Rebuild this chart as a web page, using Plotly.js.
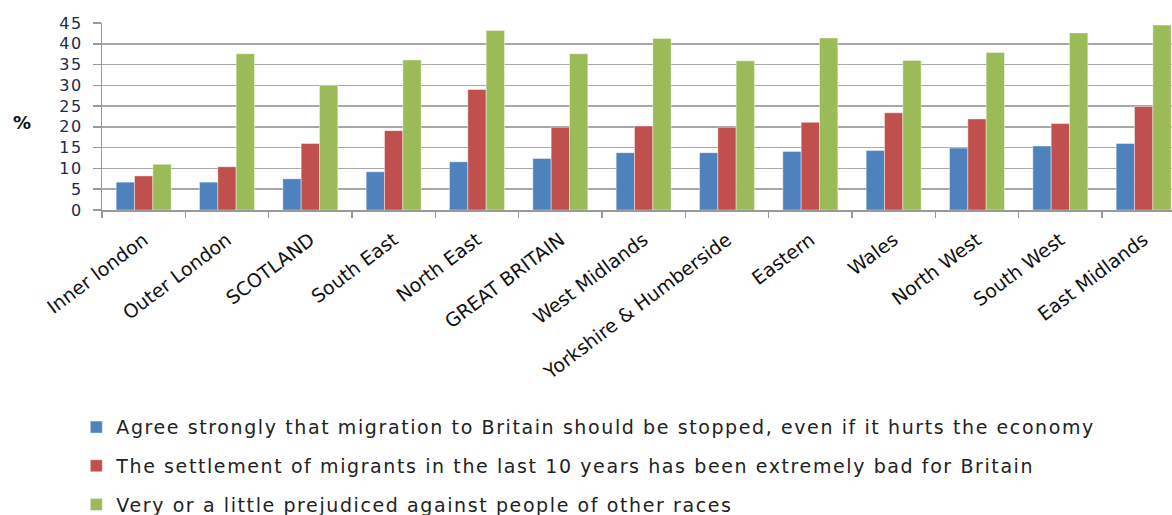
<!DOCTYPE html>
<html>
<head>
<meta charset="utf-8">
<script src="https://cdn.plot.ly/plotly-3.0.1.min.js"></script>
<style>
html,body{margin:0;padding:0;overflow:hidden;background:#fff}
#chart .legendtext{letter-spacing:1.6px}
#chart .legend .scrollbox{clip-path:none !important}
#chart .ytick text{letter-spacing:1.5px}
</style>
</head>
<body>
<div id="chart" style="width:1172px;height:515px"></div>
<script>
const categories = ["Inner london","Outer London","SCOTLAND","South East","North East","GREAT BRITAIN","West Midlands","Yorkshire & Humberside","Eastern","Wales","North West","South West","East Midlands"];
const agreeStop = [6.7,6.7,7.5,9.2,11.6,12.4,13.8,13.8,14.1,14.3,14.9,15.4,16.0];
const settlementBad = [8.2,10.4,16.0,19.1,29.0,19.9,20.2,19.9,21.1,23.4,21.9,20.8,24.9];
const prejudiced = [11.0,37.6,30.0,36.1,43.2,37.6,41.3,35.9,41.4,36.0,37.9,42.6,44.5];
const seriesNames = [
  "Agree strongly that migration to Britain should be stopped, even if it hurts the economy",
  "The settlement of migrants in the last 10 years has been extremely bad for Britain",
  "Very or a little prejudiced against people of other races"
];
const yTicks = [0,5,10,15,20,25,30,35,40,45];

const colors = ["#4F81BD","#C0504D","#9BBB59"];
const values = [agreeStop, settlementBad, prejudiced];
const traces = values.map((v,i)=>({
  type:"bar", x:categories, y:v, name:seriesNames[i],
  legendgroup:"g"+i,
  marker:{color:colors[i], line:{color:"rgba(255,255,255,0.7)", width:0.6}},
  hoverinfo:"x+y"
}));

const layout = {
  width:1172, height:515,
  margin:{l:102, r:0, t:23, b:305, autoexpand:false},
  paper_bgcolor:"#fff", plot_bgcolor:"#fff",
  font:{family:"DejaVu Sans, sans-serif", color:"#000"},
  barmode:"group", bargap:0.34, bargroupgap:0,
  showlegend:true,
  legend:{
    x:-0.024, xanchor:"left", y:-1.06, yanchor:"top",
    orientation:"v", tracegroupgap:11,
    font:{size:19, color:"#222"},
    bgcolor:"rgba(0,0,0,0)",
    itemwidth:30
  },
  xaxis:{
    type:"category", range:[-0.5,12.34],
    tickson:"boundaries", ticks:"outside", ticklen:6, tickcolor:"#999", tickwidth:1.5,
    showline:true, linecolor:"#999", linewidth:1.5,
    tickangle:-37, tickfont:{size:19, color:"#111"},
    ticklabelstandoff:10,
    showgrid:false, zeroline:false, automargin:false
  },
  yaxis:{
    range:[0,45], tickvals:yTicks, ticktext:yTicks.map(t=>String(t)+"\u00a0"),
    ticks:"outside", ticklen:8, tickcolor:"#999", tickwidth:1.5,
    showline:true, linecolor:"#999", linewidth:1.5,
    showgrid:true, gridcolor:"#a8a8a8", gridwidth:1.5,
    zeroline:false,
    tickfont:{size:16, color:"#1c2a4a"},
    automargin:false
  },
  annotations:[{
    text:"<b>%</b>", xref:"paper", yref:"paper",
    x:(22-102)/1070, y:(210-122)/187, xanchor:"center", yanchor:"middle",
    showarrow:false, font:{size:18, color:"#111"}
  }]
};

Plotly.newPlot("chart", traces, layout, {displayModeBar:false, staticPlot:true});
</script>
</body>
</html>
